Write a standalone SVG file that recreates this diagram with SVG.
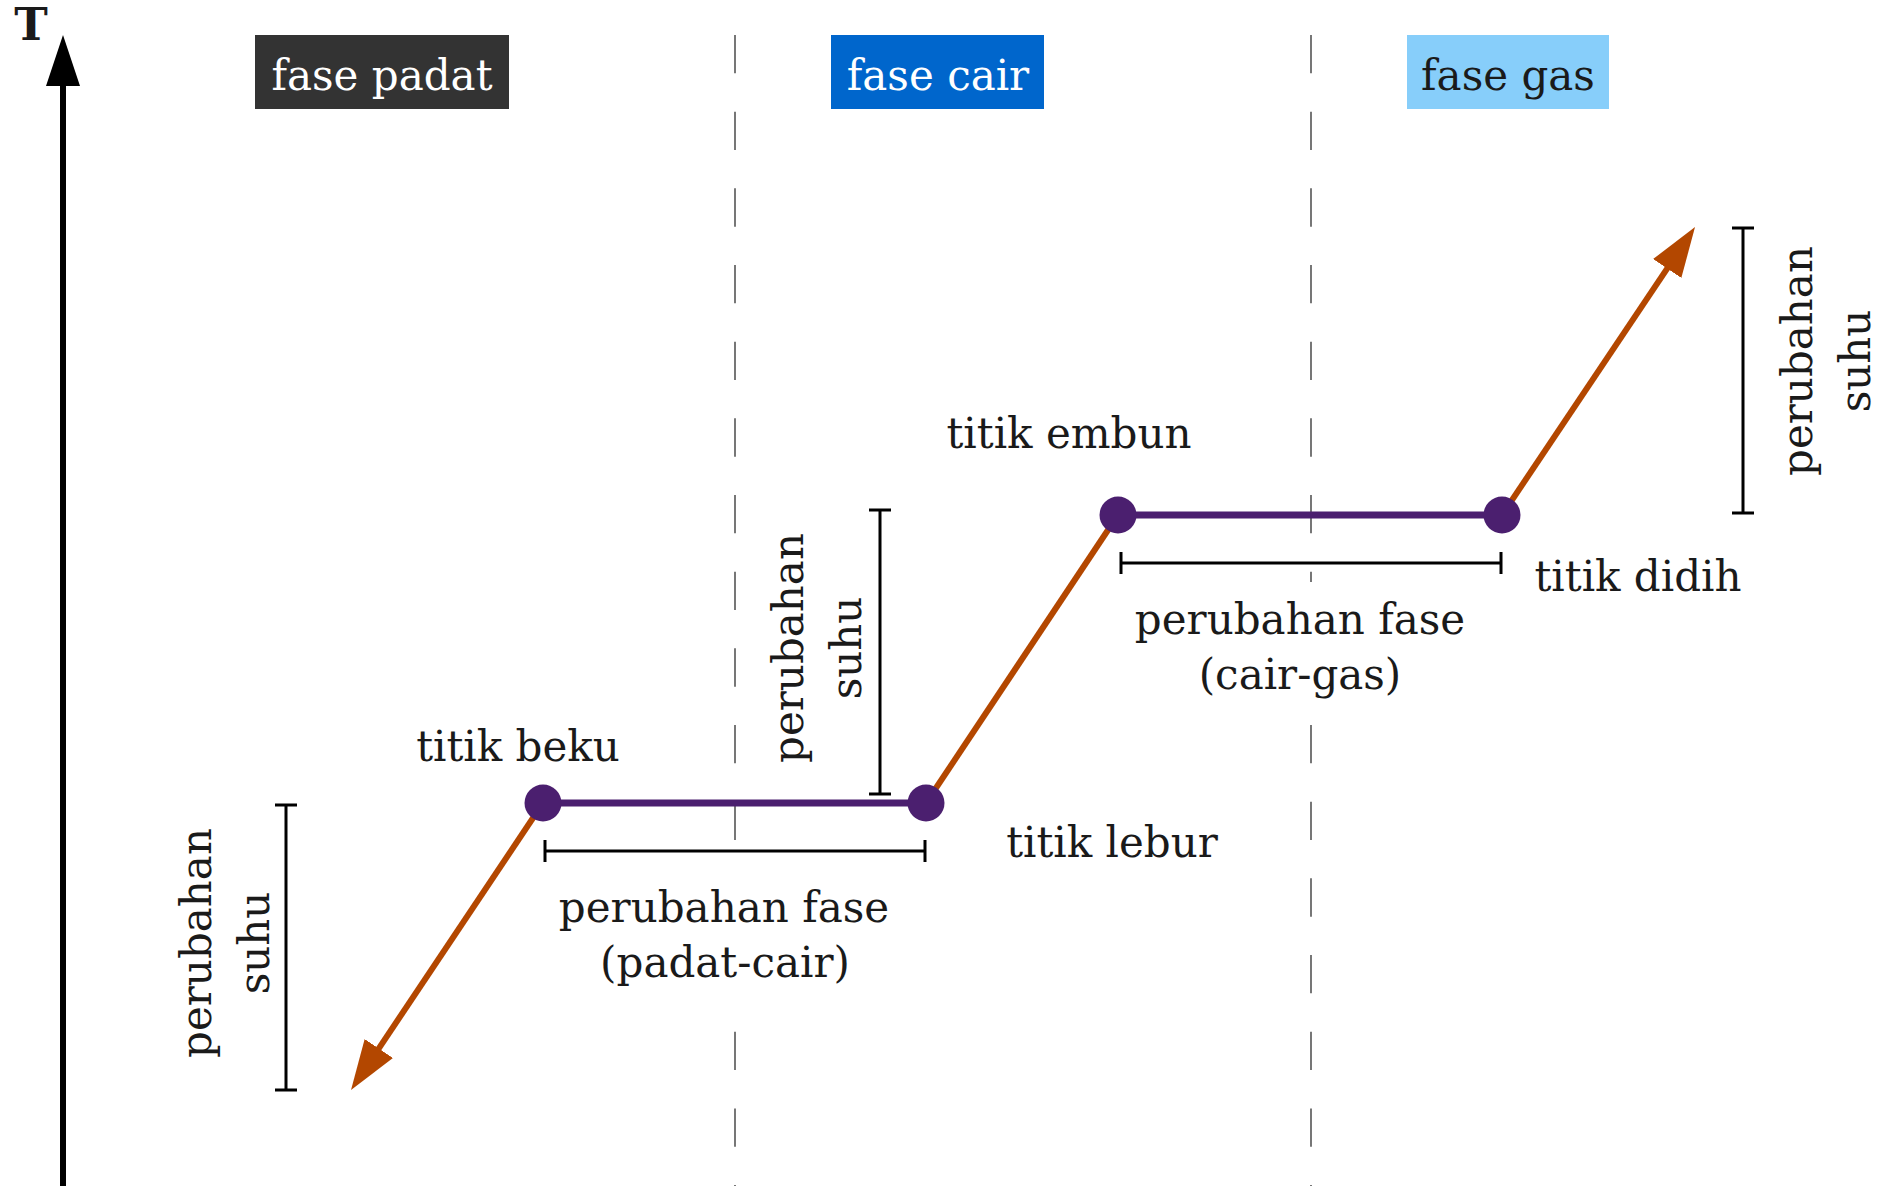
<svg xmlns="http://www.w3.org/2000/svg" width="1881" height="1186" viewBox="0 0 1881 1186">
<style>
.t{font-family:"DejaVu Serif","Liberation Serif",serif;font-size:42px;fill:#1a1a1a;text-anchor:middle}
.hd{font-family:"DejaVu Serif","Liberation Serif",serif;font-size:42px;text-anchor:middle}
.dash{stroke:#555;stroke-width:1.6;stroke-dasharray:38.3 38.37;fill:none}
.orange{stroke:#b34700;stroke-width:6;fill:none}
.purple{stroke:#4b1f6f;stroke-width:7;fill:none}
.pt{fill:#4b1f6f}
.br{stroke:#000;stroke-width:3;fill:none}
.bg{fill:#fff}
</style>
<defs>
<marker id="ah" markerUnits="userSpaceOnUse" viewBox="0 0 50 34" markerWidth="50" markerHeight="34" refX="2" refY="17" orient="auto">
<path d="M0,0 L50,17 L0,34 z" fill="#b34700"/>
</marker>
</defs>
<rect width="1881" height="1186" fill="#fff"/>
<g id="axis">
<line x1="63" y1="84" x2="63" y2="1186" stroke="#000" stroke-width="6"/>
<path d="M63,35 L80,86 L46,86 z" fill="#000"/>
<text x="31" y="40" style="font-family:'DejaVu Serif','Liberation Serif',serif;font-size:45px;font-weight:bold;fill:#1a1a1a;text-anchor:middle">T</text>
</g>
<g id="dividers">
<line class="dash" x1="735" y1="35" x2="735" y2="1186"/>
<line class="dash" x1="1311" y1="35" x2="1311" y2="1186"/>
</g>
<g id="fase-padat">
<rect x="255" y="35" width="254" height="74" fill="#333333"/>
<text class="hd" x="382" y="90" fill="#fff">fase padat</text>
</g>
<g id="fase-cair">
<rect x="831" y="35" width="213" height="74" fill="#0066cc"/>
<text class="hd" x="938" y="90" fill="#fff">fase cair</text>
</g>
<g id="fase-gas">
<rect x="1407" y="35" width="202" height="74" fill="#87cefa"/>
<text class="hd" x="1508" y="90" fill="#1a1a1a">fase gas</text>
</g>
<g id="connectors">
<line class="orange" x1="543" y1="803" x2="377.7" y2="1050.1" marker-end="url(#ah)"/>
<line class="orange" x1="926" y1="803" x2="1118" y2="515"/>
<line class="orange" x1="1502" y1="515" x2="1668.3" y2="266.9" marker-end="url(#ah)"/>
<line class="purple" x1="543" y1="803" x2="926" y2="803"/>
<line class="purple" x1="1118" y1="515" x2="1502" y2="515"/>
</g>
<g id="titik-beku">
<circle class="pt" cx="543" cy="803" r="18.5"/>
<text class="t" x="518" y="761">titik beku</text>
</g>
<g id="titik-lebur">
<circle class="pt" cx="926" cy="803" r="18.5"/>
<text class="t" x="1112" y="857">titik lebur</text>
</g>
<g id="titik-embun">
<circle class="pt" cx="1118" cy="515" r="18.5"/>
<text class="t" x="1069" y="448">titik embun</text>
</g>
<g id="titik-didih">
<circle class="pt" cx="1502" cy="515" r="18.5"/>
<text class="t" x="1638" y="591">titik didih</text>
</g>
<g id="fase-padat-cair">
<path class="br" d="M545,851 H925 M545,840 V862 M925,840 V862"/>
<rect class="bg" x="556" y="870" width="338" height="135"/>
<text class="t" x="724" y="922">perubahan fase</text>
<text class="t" x="725" y="977">(padat-cair)</text>
</g>
<g id="fase-cair-gas">
<path class="br" d="M1121,563 H1501 M1121,552 V574 M1501,552 V574"/>
<rect class="bg" x="1132" y="582" width="338" height="135"/>
<text class="t" x="1300" y="634">perubahan fase</text>
<text class="t" x="1300" y="689">(cair-gas)</text>
</g>
<g id="suhu-padat">
<path class="br" d="M286,805 V1090 M275,805 H297 M275,1090 H297"/>
<text class="t" transform="translate(211,943) rotate(-90)"><tspan x="0" y="0">perubahan</tspan><tspan x="0" y="58">suhu</tspan></text>
</g>
<g id="suhu-cair">
<path class="br" d="M880,510 V794 M869,510 H891 M869,794 H891"/>
<text class="t" transform="translate(803,648) rotate(-90)"><tspan x="0" y="0">perubahan</tspan><tspan x="0" y="58">suhu</tspan></text>
</g>
<g id="suhu-gas">
<path class="br" d="M1743,228 V513 M1732,228 H1754 M1732,513 H1754"/>
<text class="t" transform="translate(1812,361) rotate(-90)"><tspan x="0" y="0">perubahan</tspan><tspan x="0" y="58">suhu</tspan></text>
</g>
</svg>
